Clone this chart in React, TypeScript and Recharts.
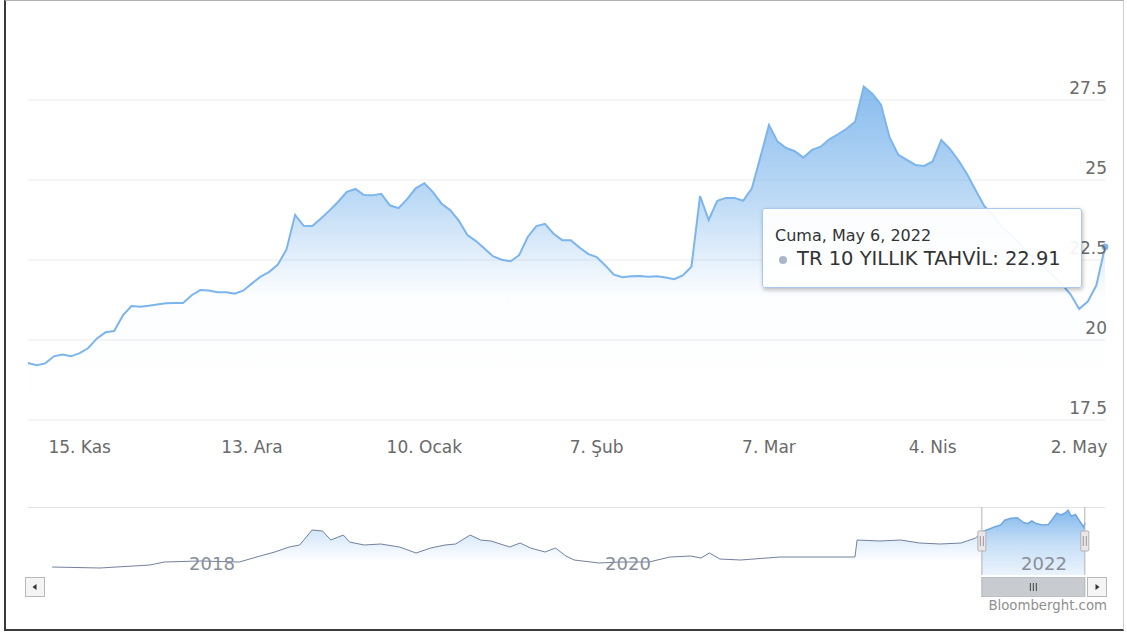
import React from "react";
import {
  ComposedChart,
  Area,
  XAxis,
  YAxis,
  CartesianGrid,
  Tooltip,
  ReferenceLine,
  ReferenceArea,
} from "recharts";

const FONT = '"DejaVu Sans", Verdana, sans-serif';

// TR 10Y bond yield, one value per trading day (early Nov 2021 .. 6 May 2022)
const yieldValues = [
  19.28, 19.21, 19.27, 19.49, 19.55, 19.49, 19.59, 19.75, 20.05, 20.24,
  20.28, 20.76, 21.06, 21.04, 21.07, 21.11, 21.15, 21.16, 21.16, 21.4,
  21.56, 21.55, 21.49, 21.49, 21.45, 21.55, 21.77, 21.98, 22.13, 22.36,
  22.83, 23.91, 23.57, 23.56, 23.8, 24.05, 24.32, 24.63, 24.72, 24.53,
  24.52, 24.57, 24.21, 24.12, 24.4, 24.74, 24.9, 24.62, 24.26, 24.06,
  23.73, 23.28, 23.09, 22.85, 22.61, 22.51, 22.46, 22.65, 23.22, 23.56,
  23.63, 23.32, 23.12, 23.12, 22.89, 22.69, 22.59, 22.33, 22.04, 21.96,
  21.99, 22.0, 21.98, 21.99, 21.95, 21.9, 22.02, 22.29, 24.5, 23.75,
  24.35, 24.44, 24.44, 24.35, 24.73, 25.71, 26.72, 26.2, 26.0, 25.9,
  25.7, 25.94, 26.04, 26.27, 26.43, 26.6, 26.82, 27.92, 27.7, 27.35,
  26.33, 25.79, 25.63, 25.47, 25.44, 25.58, 26.25, 25.97, 25.61, 25.18,
  24.67, 24.18, 23.9, 23.55, 23.3, 23.04, 22.72, 22.52, 22.27, 22.0,
  21.74, 21.43, 20.97, 21.2, 21.71, 22.91,
];

const xTickDays = [6, 26, 46, 66, 86, 105, 122];
const xTickLabels = ["15. Kas", "13. Ara", "10. Ocak", "7. Şub", "7. Mar", "4. Nis", "2. May"];
const yTicks = [17.5, 20, 22.5, 25, 27.5];

const seriesName = "TR 10 YILLIK TAHVİL";
const tooltipDate = "Cuma, May 6, 2022";

// navigator: long history, decimal years
const navYears = [
  2017.38, 2017.61, 2017.85, 2017.92, 2018.09, 2018.28, 2018.38, 2018.45, 2018.52, 2018.57,
  2018.63, 2018.68, 2018.72, 2018.78, 2018.81, 2018.88, 2018.96, 2019.05, 2019.13, 2019.2,
  2019.27, 2019.32, 2019.39, 2019.44, 2019.49, 2019.58, 2019.63, 2019.68, 2019.75, 2019.8,
  2019.85, 2019.89, 2020.01, 2020.11, 2020.25, 2020.35, 2020.45, 2020.5, 2020.54, 2020.59,
  2020.69, 2020.88, 2021.24, 2021.25, 2021.36, 2021.46, 2021.55, 2021.65, 2021.75, 2021.82,
  2021.85, 2021.88, 2021.91, 2021.94, 2021.96, 2021.99, 2022.02, 2022.05, 2022.07, 2022.09,
  2022.11, 2022.14, 2022.17, 2022.19, 2022.21, 2022.23, 2022.25, 2022.265, 2022.28, 2022.3,
  2022.33, 2022.34, 2022.345,
];
const navValues = [
  5.2, 4.8, 6.0, 7.2, 7.6, 7.2, 9.6, 11.2, 13.2, 14.0,
  20.0, 19.6, 16.0, 18.0, 15.2, 14.0, 14.4, 13.2, 10.8, 12.8,
  14.0, 14.4, 18.0, 16.0, 15.6, 13.2, 14.8, 12.8, 11.2, 12.8,
  9.6, 8.0, 6.8, 7.2, 7.2, 9.2, 9.6, 8.8, 10.8, 8.4,
  8.0, 9.2, 9.2, 16.0, 15.6, 16.0, 14.8, 14.4, 14.8, 16.8,
  19.3, 20.2, 21.2, 22.0, 23.9, 24.7, 24.9, 23.0, 22.5, 23.6,
  22.6, 22.0, 22.2, 24.4, 26.7, 26.0, 26.8, 27.9, 25.5, 26.2,
  22.3, 21.0, 22.9,
];
const navTickYears = [2018, 2020, 2022];
const navDomain = [2017.264, 2022.442];
const navValueDomain = [2, 29.2];
const selectionStart = 2021.85;
const selectionEnd = 2022.345;

const mainData = yieldValues.map((v, i) => ({ day: i, value: v }));
const navData = navYears.map((t, i) => ({
  t,
  dim: t <= selectionStart ? navValues[i] : null,
  sel: t >= selectionStart ? navValues[i] : null,
}));

const XTick = (props: any) => {
  const { x, y, payload } = props;
  const label = xTickLabels[xTickDays.indexOf(payload.value)];
  return (
    <text x={x} y={y} dy={25} textAnchor="middle" fontSize={17} fill="#6a6a6a" fontFamily={FONT}>
      {label}
    </text>
  );
};

const YTick = (props: any) => {
  const { x, y, payload } = props;
  return (
    <text x={x - 6} y={y} dy={-6} textAnchor="end" fontSize={17} fill="#6a6a6a" fontFamily={FONT}>
      {payload.value}
    </text>
  );
};

const NavTick = (props: any) => {
  const { x, y, payload } = props;
  return (
    <text x={x + 8} y={y} dy={-5} textAnchor="start" fontSize={18} fill="#888f9a" fontFamily={FONT}>
      {payload.value}
    </text>
  );
};

const NavHandle = (props: any) => {
  const vb = props.viewBox || {};
  const x = vb.x;
  const cy = vb.y + vb.height / 2;
  return (
    <g>
      <rect x={x - 4} y={cy - 10} width={8} height={20} fill="#ebe7e8" stroke="#b2b1b6" rx={1} />
      <line x1={x - 1.5} y1={cy - 5} x2={x - 1.5} y2={cy + 5} stroke="#9a999e" />
      <line x1={x + 1.5} y1={cy - 5} x2={x + 1.5} y2={cy + 5} stroke="#9a999e" />
    </g>
  );
};

const ThumbGrip = (props: any) => {
  const vb = props.viewBox || {};
  const cx = vb.x + vb.width / 2;
  const cy = vb.y + vb.height / 2;
  return (
    <g stroke="#444">
      <line x1={cx - 3} y1={cy - 4} x2={cx - 3} y2={cy + 4} />
      <line x1={cx} y1={cy - 4} x2={cx} y2={cy + 4} />
      <line x1={cx + 3} y1={cy - 4} x2={cx + 3} y2={cy + 4} />
    </g>
  );
};

const TipBox = ({ active, payload }: any) => {
  if (!active || !payload || !payload.length) return null;
  const v = payload[0].value;
  return (
    <div
      style={{
        width: 320,
        height: 80,
        boxSizing: "border-box",
        background: "rgba(255,255,255,0.92)",
        border: "1px solid #a9c9ea",
        borderRadius: 3,
        boxShadow: "1px 2px 4px rgba(0,0,0,0.25)",
        padding: "17px 0 0 12px",
        fontFamily: FONT,
        color: "#333",
        whiteSpace: "nowrap",
      }}
    >
      <div style={{ fontSize: 16, lineHeight: "20px" }}>{tooltipDate}</div>
      <div style={{ fontSize: 19.5, lineHeight: "26px" }}>
        <span
          style={{
            display: "inline-block",
            width: 8,
            height: 8,
            borderRadius: "50%",
            background: "#a7b6c8",
            marginLeft: 4,
            marginRight: 10,
            verticalAlign: "middle",
          }}
        />
        {seriesName}: {Number(v).toFixed(2)}
      </div>
    </div>
  );
};

const btnStyle: React.CSSProperties = {
  position: "absolute",
  top: 577,
  width: 20,
  height: 20,
  boxSizing: "border-box",
  border: "1px solid #b8b8b8",
  background: "#f4f4f4",
};

export default function App() {
  return (
    <div style={{ position: "relative", width: 1127, height: 633, overflow: "hidden", background: "#fff" }}>
      <style>{`body{margin:0}`}</style>
      <div
        style={{
          position: "absolute",
          left: 4,
          top: 0,
          width: 1120,
          height: 631,
          boxSizing: "border-box",
          borderLeft: "2px solid #3a3a3a",
          borderBottom: "2px solid #3a3a3a",
          borderTop: "1px solid #b0b0b0",
          borderRight: "1px solid #d0d0d0",
        }}
      />

      <div style={{ position: "absolute", left: 0, top: 0 }}>
        <ComposedChart
          width={1127}
          height={470}
          data={mainData}
          margin={{ top: 36, right: 0, left: 28, bottom: 10 }}
        >
          <defs>
            <linearGradient id="mainFill" x1="0" y1="0" x2="0" y2="1">
              <stop offset="0%" stopColor="#7cb5ec" stopOpacity={0.9} />
              <stop offset="34%" stopColor="#7cb5ec" stopOpacity={0.5} />
              <stop offset="52%" stopColor="#7cb5ec" stopOpacity={0.2} />
              <stop offset="63%" stopColor="#7cb5ec" stopOpacity={0.02} />
              <stop offset="100%" stopColor="#7cb5ec" stopOpacity={0} />
            </linearGradient>
          </defs>
          <CartesianGrid stroke="#ebebeb" vertical={false} horizontalValues={yTicks} />
          <XAxis
            dataKey="day"
            type="number"
            domain={[0, 125]}
            ticks={xTickDays}
            interval={0}
            tickLine={false}
            axisLine={false}
            height={40}
            tick={<XTick />}
          />
          <YAxis
            orientation="right"
            domain={[17.5, 29.5]}
            ticks={yTicks}
            interval={0}
            tickLine={false}
            axisLine={false}
            width={22}
            tick={<YTick />}
          />
          <Tooltip
            defaultIndex={125}
            active={true}
            position={{ x: 762, y: 208 }}
            cursor={false}
            isAnimationActive={false}
            wrapperStyle={{ zIndex: 10, outline: "none" }}
            content={<TipBox />}
          />
          <Area
            type="linear"
            dataKey="value"
            name={seriesName}
            stroke="#7cb5ec"
            strokeWidth={2}
            fill="url(#mainFill)"
            fillOpacity={1}
            dot={false}
            activeDot={{ r: 4, fill: "#7cb5ec", stroke: "#fff", strokeWidth: 1 }}
            isAnimationActive={false}
          />
        </ComposedChart>
      </div>

      <div style={{ position: "absolute", left: 0, top: 507 }}>
        <ComposedChart
          width={1127}
          height={69}
          data={navData}
          margin={{ top: 0, right: 22, left: 28, bottom: 0 }}
        >
          <defs>
            <linearGradient id="navDim" x1="0" y1="0" x2="0" y2="1">
              <stop offset="0%" stopColor="#7cb5ec" stopOpacity={0.35} />
              <stop offset="70%" stopColor="#7cb5ec" stopOpacity={0} />
            </linearGradient>
            <linearGradient id="navSel" x1="0" y1="0" x2="0" y2="1">
              <stop offset="0%" stopColor="#7cb5ec" stopOpacity={0.95} />
              <stop offset="50%" stopColor="#7cb5ec" stopOpacity={0.45} />
              <stop offset="100%" stopColor="#7cb5ec" stopOpacity={0.15} />
            </linearGradient>
          </defs>
          <XAxis
            dataKey="t"
            type="number"
            domain={navDomain}
            ticks={navTickYears}
            interval={0}
            tickLine={false}
            axisLine={false}
            tickSize={0}
            tickMargin={0}
            height={1}
            tick={<NavTick />}
          />
          <YAxis hide domain={navValueDomain} />
          <Area
            type="linear"
            dataKey="dim"
            stroke="#72819c"
            strokeWidth={1}
            fill="url(#navDim)"
            fillOpacity={1}
            dot={false}
            activeDot={false}
            connectNulls={false}
            isAnimationActive={false}
          />
          <Area
            type="linear"
            dataKey="sel"
            stroke="#6fa8e0"
            strokeWidth={1.5}
            fill="url(#navSel)"
            fillOpacity={1}
            dot={false}
            activeDot={false}
            connectNulls={false}
            isAnimationActive={false}
          />
          <ReferenceLine y={navValueDomain[1]} stroke="#c4c4c4" ifOverflow="visible" />
          <ReferenceLine x={selectionStart} stroke="#b2b1b6" label={<NavHandle />} />
          <ReferenceLine x={selectionEnd} stroke="#b2b1b6" label={<NavHandle />} />
        </ComposedChart>
      </div>

      <div style={{ position: "absolute", left: 0, top: 577 }}>
        <ComposedChart
          width={1127}
          height={20}
          data={navData}
          margin={{ top: 0, right: 22, left: 28, bottom: 0 }}
        >
          <XAxis dataKey="t" type="number" domain={navDomain} hide />
          <YAxis hide domain={[0, 1]} allowDataOverflow />
          <Area
            dataKey="sel"
            stroke="none"
            fill="none"
            dot={false}
            activeDot={false}
            isAnimationActive={false}
          />
          <ReferenceArea
            x1={selectionStart}
            x2={selectionEnd}
            y1={0}
            y2={1}
            fill="#c8cbcf"
            fillOpacity={1}
            stroke="#b0b3b7"
            ifOverflow="visible"
            label={<ThumbGrip />}
          />
        </ComposedChart>
      </div>

      <div style={{ ...btnStyle, left: 25 }}>
        <svg width={18} height={18}>
          <path d="M10.5 6 L6.5 9 L10.5 12 Z" fill="#333" />
        </svg>
      </div>
      <div style={{ ...btnStyle, left: 1087 }}>
        <svg width={18} height={18}>
          <path d="M7.5 6 L11.5 9 L7.5 12 Z" fill="#333" />
        </svg>
      </div>

      <div
        style={{
          position: "absolute",
          right: 20,
          top: 598,
          fontFamily: FONT,
          fontSize: 13.3,
          color: "#8f8f8f",
        }}
      >
        Bloomberght.com
      </div>
    </div>
  );
}
